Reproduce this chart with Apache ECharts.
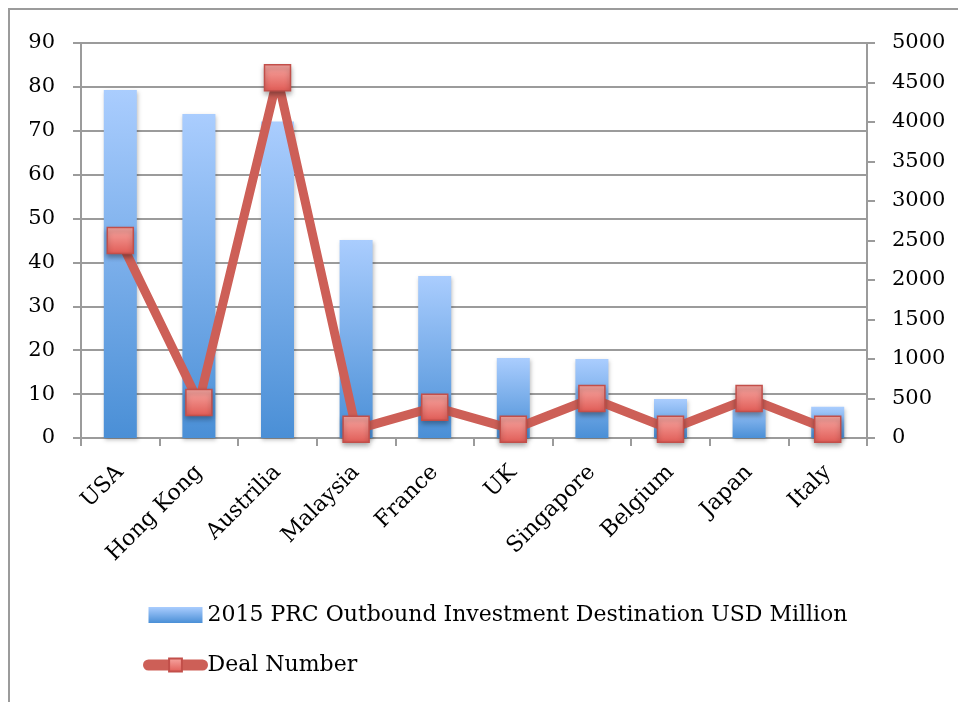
<!DOCTYPE html>
<html>
<head>
<meta charset="utf-8">
<script src="https://cdn.jsdelivr.net/npm/echarts@6/dist/echarts.min.js"></script>
<style>
  html, body { margin: 0; padding: 0; background: #fff; }
  #chart { width: 958px; height: 702px; }
</style>
</head>
<body>
<div id="chart"></div>
<script>
// Destination countries
const countries = ['USA', 'Hong Kong', 'Austrilia', 'Malaysia', 'France', 'UK', 'Singapore', 'Belgium', 'Japan', 'Italy'];
// 2015 outbound investment, USD million (left axis)
const investment = [79.3, 73.8, 72.1, 45.1, 36.9, 18.2, 18.0, 8.9, 8.0, 7.1];
// Number of deals (right axis)
const deals = [2500, 450, 4560, 110, 390, 110, 500, 110, 500, 110];
// Axis tick settings
const leftTicks = { min: 0, max: 90, interval: 10 };
const rightTicks = { min: 0, max: 5000, interval: 500 };

const investName = '2015 PRC Outbound Investment Destination USD Million';
const dealName = 'Deal Number';

const FONT = '"DejaVu Serif", "Liberation Serif", serif';
const GRAY = '#9b9b9b';

const barGradient = new echarts.graphic.LinearGradient(0, 0, 0, 1, [
  { offset: 0, color: '#aacdfe' },
  { offset: 1, color: '#4a8fd6' }
]);
const markerGradient = new echarts.graphic.LinearGradient(0, 0, 0, 1, [
  { offset: 0, color: '#f7a8a3' },
  { offset: 1, color: '#e05b55' }
]);

const chart = echarts.init(document.getElementById('chart'));
chart.setOption({
  animation: false,
  backgroundColor: '#fff',
  textStyle: { fontFamily: FONT },
  graphic: [{
    type: 'rect',
    shape: { x: 9, y: 9, width: 1200, height: 1000 },
    style: { fill: 'none', stroke: GRAY, lineWidth: 2 },
    silent: true,
    z: -10
  }],
  grid: { left: 81, right: 91, top: 43, bottom: 264, containLabel: false },
  legend: {
    orient: 'vertical',
    left: 143,
    top: 604,
    padding: 0,
    itemGap: 28,
    itemWidth: 54,
    itemHeight: 16,
    textStyle: { fontFamily: FONT, fontSize: 22, color: '#000' },
    data: [
      { name: investName, icon: 'rect' },
      { name: dealName, lineStyle: { width: 11, color: '#cd5f57', cap: 'round' } }
    ]
  },
  xAxis: {
    type: 'category',
    data: countries,
    axisLine: { lineStyle: { color: GRAY, width: 2 } },
    axisTick: { show: true, length: 8, lineStyle: { color: GRAY, width: 2 } },
    axisLabel: { rotate: 45, margin: 31, fontSize: 22, color: '#000', fontFamily: FONT }
  },
  yAxis: [{
    type: 'value',
    min: leftTicks.min, max: leftTicks.max, interval: leftTicks.interval,
    axisLine: { show: true, lineStyle: { color: GRAY, width: 2 } },
    axisTick: { show: true, length: 8, lineStyle: { color: GRAY, width: 2 } },
    splitLine: { show: true, lineStyle: { color: GRAY, width: 2 } },
    axisLabel: { margin: 26, fontSize: 21, color: '#000', fontFamily: FONT }
  }, {
    type: 'value',
    position: 'right',
    min: rightTicks.min, max: rightTicks.max, interval: rightTicks.interval,
    axisLine: { show: true, lineStyle: { color: GRAY, width: 2 } },
    axisTick: { show: true, length: 8, lineStyle: { color: GRAY, width: 2 } },
    splitLine: { show: false },
    axisLabel: {
      margin: 25, fontSize: 21, color: '#000', fontFamily: FONT, align: 'left',
      formatter: (v) => String(v)
    }
  }],
  series: [{
    name: investName,
    type: 'bar',
    yAxisIndex: 0,
    data: investment,
    barWidth: '42%',
    itemStyle: {
      color: barGradient,
      shadowColor: 'rgba(0,0,0,0.25)',
      shadowBlur: 4,
      shadowOffsetX: 1,
      shadowOffsetY: 2
    }
  }, {
    name: dealName,
    type: 'line',
    yAxisIndex: 1,
    data: deals,
    symbol: 'rect',
    symbolSize: 26,
    lineStyle: { color: '#cd5f57', width: 9 },
    itemStyle: {
      color: markerGradient,
      borderColor: '#c24f4a',
      borderWidth: 1.5,
      shadowColor: 'rgba(0,0,0,0.35)',
      shadowBlur: 5,
      shadowOffsetY: 3
    },
    z: 3
  }]
});
</script>
</body>
</html>
